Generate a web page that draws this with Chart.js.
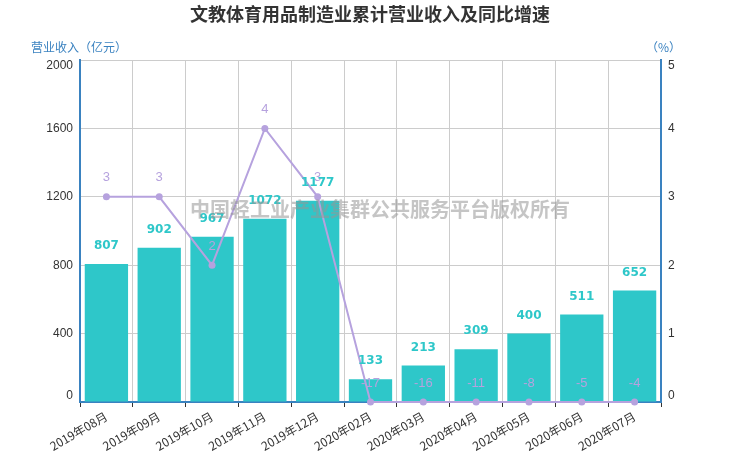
<!DOCTYPE html>
<html><head><meta charset="utf-8">
<script src="https://cdn.jsdelivr.net/npm/chart.js@4"></script>
<style>html,body{margin:0;padding:0;background:#fff}#wrap{width:740px;height:462px}</style>
</head><body><div id="wrap"><canvas id="c" width="740" height="462"></canvas></div>
<script>
const categories = ['2019年08月','2019年09月','2019年10月','2019年11月','2019年12月','2020年02月','2020年03月','2020年04月','2020年05月','2020年06月','2020年07月'];
const revenue = [807, 902, 967, 1072, 1177, 133, 213, 309, 400, 511, 652];
const growth = [3, 3, 2, 4, 3, -17, -16, -11, -8, -5, -4];
const leftTicks = [0, 400, 800, 1200, 1600, 2000];
const rightTicks = [0, 1, 2, 3, 4, 5];

const title = '文教体育用品制造业累计营业收入及同比增速';
const leftTitle = '营业收入（亿元）';
const rightTitle = '（%）';
const watermark = '中国轻工业产业集群公共服务平台版权所有';

const BAR = '#2ec7c9', LINE = '#b6a2de', AXIS = '#3a82c0';
const CJK = '"Noto Sans CJK SC", "Liberation Sans", sans-serif';
const NUM = '"Liberation Sans", Arial, sans-serif';

// growth axis shows 0..5; values below 0 sit on the axis floor
const growthPlot = growth.map(v => Math.max(v, rightTicks[0]));

const overlay = {
  id: 'overlay',
  afterDatasetsDraw(chart) {
    const ctx = chart.ctx;
    const yL = chart.scales.y, yR = chart.scales.y2, area = chart.chartArea;
    ctx.save();
    ctx.font = '12px ' + NUM; ctx.fillStyle = '#333'; ctx.textBaseline = 'middle';
    leftTicks.forEach(t => {
      let py = yL.getPixelForValue(t);
      py = Math.min(Math.max(py, area.top + 6), area.bottom - 6);
      ctx.textAlign = 'right'; ctx.fillText(String(t), area.left - 7, py);
    });
    rightTicks.forEach(t => {
      let py = yR.getPixelForValue(t);
      py = Math.min(Math.max(py, area.top + 6), area.bottom - 6);
      ctx.textAlign = 'left'; ctx.fillText(String(t), area.right + 7, py);
    });
    // line labels
    const mLine = chart.getDatasetMeta(0);
    ctx.font = '13px ' + NUM; ctx.fillStyle = LINE; ctx.textAlign = 'center';
    mLine.data.forEach((el, i) => { ctx.fillText(String(growth[i]), el.x, el.y - 19); });
    // bar labels
    const mBar = chart.getDatasetMeta(1);
    ctx.font = 'bold 12px "DejaVu Sans", sans-serif'; ctx.fillStyle = BAR;
    mBar.data.forEach((el, i) => { ctx.fillText(String(revenue[i]), el.x, el.y - 18); });
    ctx.restore();
  },
  afterDraw(chart) {
    const ctx = chart.ctx;
    ctx.save();
    ctx.textBaseline = 'middle'; ctx.textAlign = 'center';
    ctx.font = 'bold 18px ' + CJK; ctx.fillStyle = '#333';
    ctx.fillText(title, 370, 14);
    ctx.font = '12px ' + CJK; ctx.fillStyle = AXIS;
    ctx.textAlign = 'left'; ctx.fillText(leftTitle, 31, 47);
    ctx.fillText(rightTitle, 646, 47);
    ctx.font = 'bold 20px ' + CJK; ctx.fillStyle = 'rgba(150,150,150,0.55)'; ctx.textAlign = 'center';
    ctx.fillText(watermark, 380, 209);
    ctx.restore();
  }
};

new Chart(document.getElementById('c'), {
  data: {
    labels: categories,
    datasets: [
      { type: 'line', label: '同比增速', data: growthPlot, yAxisID: 'y2', borderColor: LINE, backgroundColor: LINE,
        borderWidth: 2, pointRadius: 3.5, pointBackgroundColor: LINE, pointBorderWidth: 0, tension: 0, order: 0, clip: false },
      { type: 'bar', label: '营业收入', data: revenue, yAxisID: 'y', backgroundColor: BAR,
        categoryPercentage: 0.82, barPercentage: 1, order: 1 }
    ]
  },
  plugins: [overlay],
  options: {
    responsive: false, animation: false, devicePixelRatio: 1,
    layout: { padding: { top: 60, left: 0, right: 0, bottom: 0 } },
    plugins: { legend: { display: false }, title: { display: false }, tooltip: { enabled: false } },
    scales: {
      x: {
        offset: true,
        grid: { offset: true, color: '#cccccc', tickColor: '#333', tickLength: 5, drawOnChartArea: true },
        border: { color: AXIS, width: 2 },
        ticks: { color: '#333', font: { size: 12, family: CJK }, maxRotation: 30, minRotation: 30, padding: 2, autoSkip: false },
        afterFit(s) { s.height = 60; }
      },
      y: {
        position: 'left', min: 0, max: 2000,
        afterBuildTicks(s) { s.ticks = leftTicks.map(v => ({ value: v })); },
        grid: { color: '#cccccc', drawTicks: false },
        border: { color: AXIS, width: 2 },
        ticks: { display: false },
        afterFit(s) { s.width = 80; }
      },
      y2: {
        position: 'right', min: 0, max: 5,
        afterBuildTicks(s) { s.ticks = rightTicks.map(v => ({ value: v })); },
        grid: { drawOnChartArea: false, drawTicks: false },
        border: { color: AXIS, width: 2 },
        ticks: { display: false },
        afterFit(s) { s.width = 79; }
      }
    }
  }
});
</script>
</body></html>
